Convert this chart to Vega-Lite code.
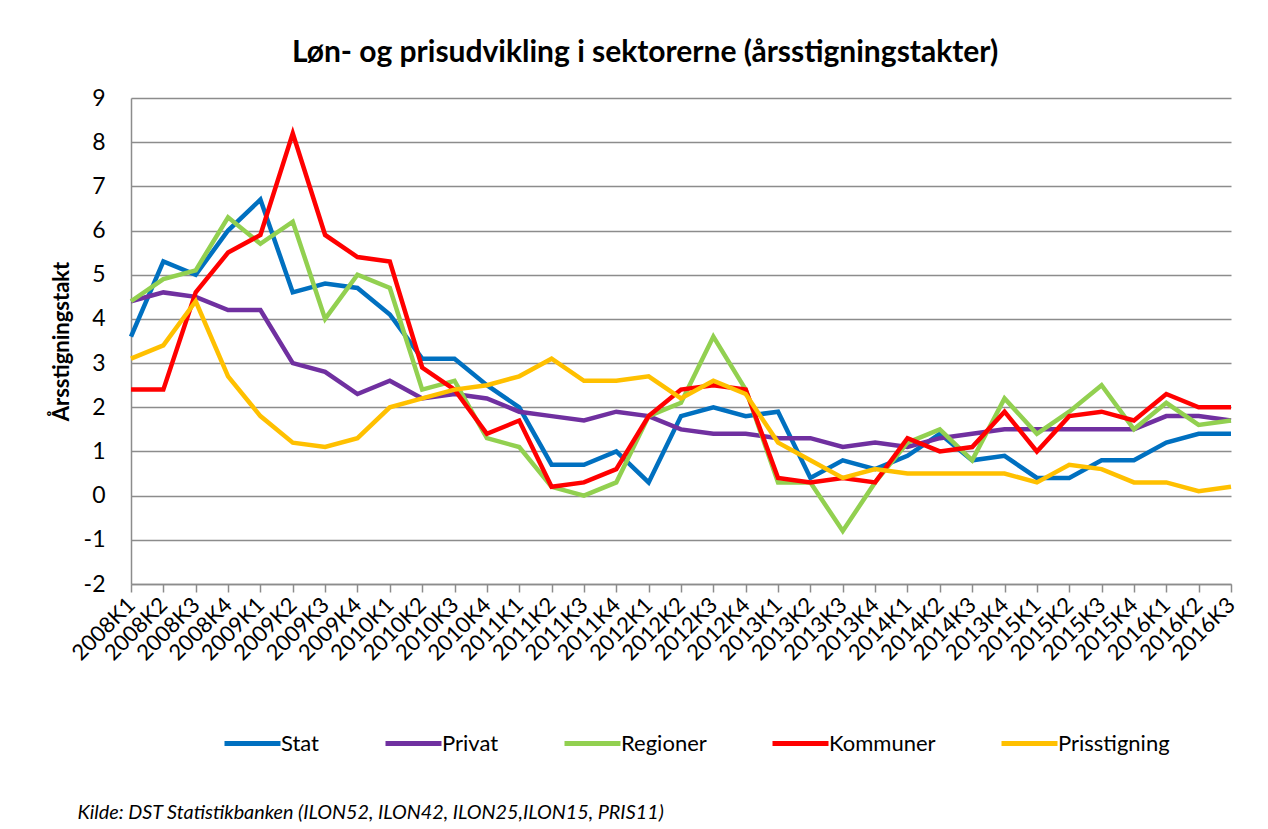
{
  "$schema": "https://vega.github.io/schema/vega-lite/v6.json",
  "width": 1100,
  "height": 486,
  "autosize": {"type": "none"},
  "padding": {"left": 131, "top": 98, "right": 37, "bottom": 245},
  "background": "white",
  "config": {"view": {"stroke": null}, "font": "Lato"},
  "title": {
    "text": "Løn- og prisudvikling i sektorerne (årsstigningstakter)",
    "font": "Lato",
    "fontSize": 30,
    "fontWeight": "bold",
    "color": "#000000",
    "anchor": "middle",
    "frame": "group",
    "dx": -36,
    "offset": 19
  },
  "data": {
    "values": [
      {"q": "2008K1", "Stat": 3.6, "Privat": 4.4, "Regioner": 4.4, "Kommuner": 2.4, "Prisstigning": 3.1},
      {"q": "2008K2", "Stat": 5.3, "Privat": 4.6, "Regioner": 4.9, "Kommuner": 2.4, "Prisstigning": 3.4},
      {"q": "2008K3", "Stat": 5.0, "Privat": 4.5, "Regioner": 5.1, "Kommuner": 4.6, "Prisstigning": 4.4},
      {"q": "2008K4", "Stat": 6.0, "Privat": 4.2, "Regioner": 6.3, "Kommuner": 5.5, "Prisstigning": 2.7},
      {"q": "2009K1", "Stat": 6.7, "Privat": 4.2, "Regioner": 5.7, "Kommuner": 5.9, "Prisstigning": 1.8},
      {"q": "2009K2", "Stat": 4.6, "Privat": 3.0, "Regioner": 6.2, "Kommuner": 8.2, "Prisstigning": 1.2},
      {"q": "2009K3", "Stat": 4.8, "Privat": 2.8, "Regioner": 4.0, "Kommuner": 5.9, "Prisstigning": 1.1},
      {"q": "2009K4", "Stat": 4.7, "Privat": 2.3, "Regioner": 5.0, "Kommuner": 5.4, "Prisstigning": 1.3},
      {"q": "2010K1", "Stat": 4.1, "Privat": 2.6, "Regioner": 4.7, "Kommuner": 5.3, "Prisstigning": 2.0},
      {"q": "2010K2", "Stat": 3.1, "Privat": 2.2, "Regioner": 2.4, "Kommuner": 2.9, "Prisstigning": 2.2},
      {"q": "2010K3", "Stat": 3.1, "Privat": 2.3, "Regioner": 2.6, "Kommuner": 2.4, "Prisstigning": 2.4},
      {"q": "2010K4", "Stat": 2.5, "Privat": 2.2, "Regioner": 1.3, "Kommuner": 1.4, "Prisstigning": 2.5},
      {"q": "2011K1", "Stat": 2.0, "Privat": 1.9, "Regioner": 1.1, "Kommuner": 1.7, "Prisstigning": 2.7},
      {"q": "2011K2", "Stat": 0.7, "Privat": 1.8, "Regioner": 0.2, "Kommuner": 0.2, "Prisstigning": 3.1},
      {"q": "2011K3", "Stat": 0.7, "Privat": 1.7, "Regioner": 0.0, "Kommuner": 0.3, "Prisstigning": 2.6},
      {"q": "2011K4", "Stat": 1.0, "Privat": 1.9, "Regioner": 0.3, "Kommuner": 0.6, "Prisstigning": 2.6},
      {"q": "2012K1", "Stat": 0.3, "Privat": 1.8, "Regioner": 1.8, "Kommuner": 1.8, "Prisstigning": 2.7},
      {"q": "2012K2", "Stat": 1.8, "Privat": 1.5, "Regioner": 2.1, "Kommuner": 2.4, "Prisstigning": 2.2},
      {"q": "2012K3", "Stat": 2.0, "Privat": 1.4, "Regioner": 3.6, "Kommuner": 2.5, "Prisstigning": 2.6},
      {"q": "2012K4", "Stat": 1.8, "Privat": 1.4, "Regioner": 2.4, "Kommuner": 2.4, "Prisstigning": 2.3},
      {"q": "2013K1", "Stat": 1.9, "Privat": 1.3, "Regioner": 0.3, "Kommuner": 0.4, "Prisstigning": 1.2},
      {"q": "2013K2", "Stat": 0.4, "Privat": 1.3, "Regioner": 0.3, "Kommuner": 0.3, "Prisstigning": 0.8},
      {"q": "2013K3", "Stat": 0.8, "Privat": 1.1, "Regioner": -0.8, "Kommuner": 0.4, "Prisstigning": 0.4},
      {"q": "2013K4", "Stat": 0.6, "Privat": 1.2, "Regioner": 0.3, "Kommuner": 0.3, "Prisstigning": 0.6},
      {"q": "2014K1", "Stat": 0.9, "Privat": 1.1, "Regioner": 1.2, "Kommuner": 1.3, "Prisstigning": 0.5},
      {"q": "2014K2", "Stat": 1.4, "Privat": 1.3, "Regioner": 1.5, "Kommuner": 1.0, "Prisstigning": 0.5},
      {"q": "2014K3", "Stat": 0.8, "Privat": 1.4, "Regioner": 0.8, "Kommuner": 1.1, "Prisstigning": 0.5},
      {"q": "2013K4*", "Stat": 0.9, "Privat": 1.5, "Regioner": 2.2, "Kommuner": 1.9, "Prisstigning": 0.5},
      {"q": "2015K1", "Stat": 0.4, "Privat": 1.5, "Regioner": 1.4, "Kommuner": 1.0, "Prisstigning": 0.3},
      {"q": "2015K2", "Stat": 0.4, "Privat": 1.5, "Regioner": 1.9, "Kommuner": 1.8, "Prisstigning": 0.7},
      {"q": "2015K3", "Stat": 0.8, "Privat": 1.5, "Regioner": 2.5, "Kommuner": 1.9, "Prisstigning": 0.6},
      {"q": "2015K4", "Stat": 0.8, "Privat": 1.5, "Regioner": 1.5, "Kommuner": 1.7, "Prisstigning": 0.3},
      {"q": "2016K1", "Stat": 1.2, "Privat": 1.8, "Regioner": 2.1, "Kommuner": 2.3, "Prisstigning": 0.3},
      {"q": "2016K2", "Stat": 1.4, "Privat": 1.8, "Regioner": 1.6, "Kommuner": 2.0, "Prisstigning": 0.1},
      {"q": "2016K3", "Stat": 1.4, "Privat": 1.7, "Regioner": 1.7, "Kommuner": 2.0, "Prisstigning": 0.2}
    ]
  },
  "transform": [
    {"fold": ["Stat", "Privat", "Regioner", "Kommuner", "Prisstigning"], "as": ["serie", "v"]}
  ],
  "mark": {"type": "line", "strokeWidth": 4.5},
  "encoding": {
    "x": {
      "field": "q",
      "type": "ordinal",
      "sort": null,
      "scale": {"type": "point", "padding": 0},
      "axis": {
        "title": "Kilde: DST Statistikbanken (ILON52, ILON42, ILON25,ILON15, PRIS11)",
        "titleX": -54,
        "titleY": 228,
        "titleAlign": "left",
        "titleBaseline": "middle",
        "titleAngle": 0,
        "titleFont": "Lato",
        "titleFontStyle": "italic",
        "titleFontWeight": "normal",
        "titleFontSize": 19.8,
        "titleColor": "#000000",
        "labelExpr": "replace(datum.label, '*', '')",
        "labelAngle": -45,
        "labelAlign": "right",
        "labelBaseline": "middle",
        "labelFont": "Lato",
        "labelFontSize": 22,
        "labelColor": "#000000",
        "labelPadding": 9,
        "labelOverlap": false,
        "labelBound": false,
        "ticks": true,
        "tickSize": 8,
        "tickColor": "#8c8c8c",
        "tickWidth": 1.5,
        "domain": true,
        "domainColor": "#8c8c8c",
        "domainWidth": 1.5,
        "grid": false
      }
    },
    "y": {
      "field": "v",
      "type": "quantitative",
      "scale": {"domain": [-2, 9], "nice": false, "zero": false},
      "axis": {
        "values": [-2, -1, 0, 1, 2, 3, 4, 5, 6, 7, 8, 9],
        "labelExpr": "'' + datum.value",
        "grid": true,
        "gridColor": "#8c8c8c",
        "gridWidth": 1.5,
        "domain": true,
        "domainColor": "#8c8c8c",
        "domainWidth": 1.5,
        "ticks": false,
        "tickSize": 0,
        "labelPadding": 26,
        "labelFont": "Lato",
        "labelFontSize": 23,
        "labelColor": "#000000",
        "title": "Årsstigningstakt",
        "titleFont": "Lato",
        "titleFontSize": 22,
        "titleFontWeight": "bold",
        "titleColor": "#000000",
        "titleX": -70,
        "titleY": 243,
        "titleAngle": -90,
        "titleAlign": "center",
        "titleBaseline": "middle"
      }
    },
    "color": {
      "field": "serie",
      "type": "nominal",
      "sort": ["Stat", "Privat", "Regioner", "Kommuner", "Prisstigning"],
      "scale": {
        "domain": ["Stat", "Privat", "Regioner", "Kommuner", "Prisstigning"],
        "range": ["#0070C0", "#7030A0", "#92D050", "#FF0000", "#FFC000"]
      },
      "legend": {
        "orient": "none",
        "legendX": 91,
        "legendY": 615,
        "direction": "horizontal",
        "columns": 5,
        "gridAlign": "none",
        "title": null,
        "padding": 0,
        "symbolType": "stroke",
        "symbolSize": 3136,
        "symbolStrokeWidth": 5,
        "labelFont": "Lato",
        "labelFontSize": 22,
        "labelColor": "#000000",
        "labelOffset": -2,
        "columnPadding": 55
      }
    }
  }
}
